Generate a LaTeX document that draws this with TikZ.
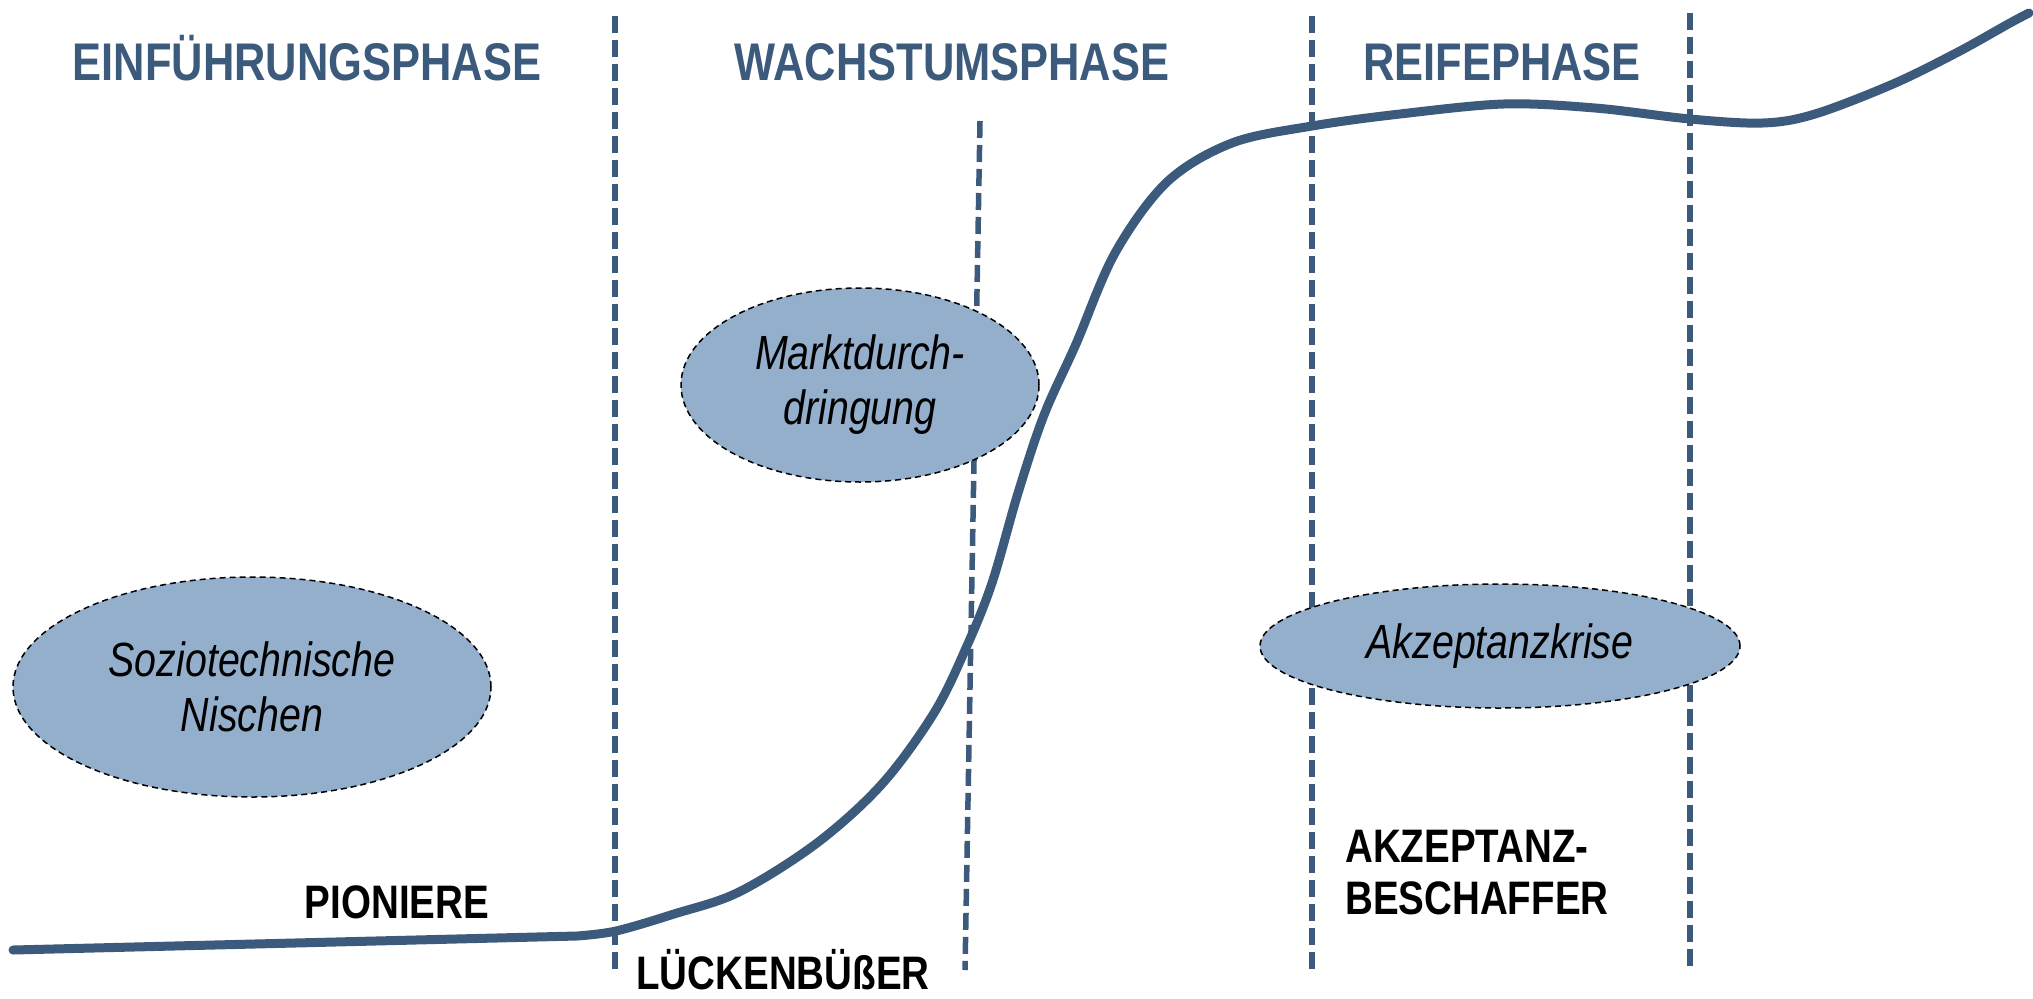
\documentclass[tikz,border=0pt]{standalone}
\usepackage{fontspec}
\newfontfamily\narrowfont[FakeStretch=0.82]{Liberation Sans}
\usepackage{xcolor}
\definecolor{PhaseBlue}{HTML}{3B5A7C}
\definecolor{NicheFill}{HTML}{93AFCB}
\usetikzlibrary{shapes.geometric, positioning}

\begin{document}
\begin{tikzpicture}[
  x=1pt, y=-1pt,
  phase/.style={anchor=base, text=PhaseBlue, inner sep=0, font=\narrowfont\bfseries\fontsize{53}{60}\selectfont},
  actor/.style={anchor=base, inner sep=0, align=left, font=\narrowfont\bfseries\fontsize{47}{52}\selectfont},
  niche/.style={ellipse, draw=black, dash pattern=on 6pt off 4pt, line width=1.5pt, fill=NicheFill, inner sep=0, align=center, font=\narrowfont\itshape\fontsize{48}{55}\selectfont},
  border/.style={PhaseBlue, line width=5.5pt, dash pattern=on 17pt off 7pt},
  trend/.style={PhaseBlue, line width=9pt, line cap=round, line join=round}
]
\useasboundingbox (0,0) rectangle (2033,998);

% phase borders
\coordinate (b1top) at (615,16);  \coordinate (b1bot) at (615,970);
\coordinate (b2top) at (980,121); \coordinate (b2bot) at (965,970);
\coordinate (b3top) at (1312,16); \coordinate (b3bot) at (1312,970);
\coordinate (b4top) at (1690,13); \coordinate (b4bot) at (1690,966);
\foreach \b in {b1,b2,b3,b4}
  \draw[border] (\b top) -- (\b bot);

% phase titles
\node[phase] (intro) at (307,80) {EINFÜHRUNGSPHASE};
\node[phase] (growth) at (952,80) {WACHSTUMSPHASE};
\node[phase] (mature) at (1502,80) {REIFEPHASE};

% diffusion curve
\draw[trend] (13,950) -- (577,936)
  -- plot[smooth, tension=0.55] coordinates {(577,936) (616,931) (674,914) (739,892) (817,843) (882,784) (934,713) (966,648) (992,583) (1018,493) (1044,415) (1076,344) (1115,253) (1167,182) (1232,143) (1312,126) (1400,114) (1504,104) (1595,108) (1690,119) (1763,123) (1815,114) (1893,84) (1958,52) (2010,23) (2029,13)};

% niches
\node[niche, minimum width=478pt, minimum height=220pt] (nische) at (252,687) {Soziotechnische\\Nischen};
\node[niche, minimum width=358pt, minimum height=194pt] (markt) at (860,385) {Marktdurch-\\dringung};
\node[niche, minimum width=480pt, minimum height=124pt] (krise) at (1500,646) {Akzeptanzkrise};

% actors
\node[actor] (pion) at (397,918) {PIONIERE};
\node[actor] (luecke) at (783,989) {LÜCKENBÜßER};
\node[actor, anchor=base west] (beschaff) at (1345,914) {AKZEPTANZ-\\BESCHAFFER};
\end{tikzpicture}
\end{document}
